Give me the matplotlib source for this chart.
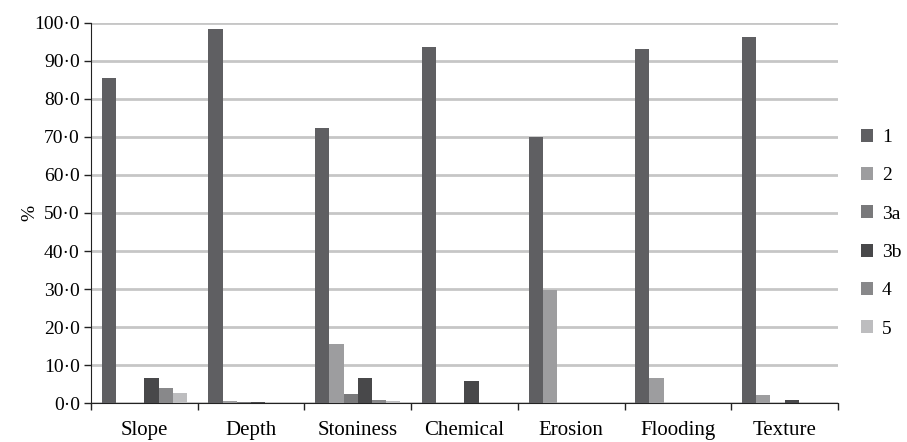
import numpy as np
import matplotlib
matplotlib.use("Agg")
import matplotlib.pyplot as plt
from matplotlib.ticker import FuncFormatter

plt.rcParams["font.family"] = ["Liberation Serif", "DejaVu Serif"]

categories = ["Slope", "Depth", "Stoniness", "Chemical", "Erosion", "Flooding", "Texture"]
series_names = ["1", "2", "3a", "3b", "4", "5"]

s1 = [85.4, 98.3, 72.3, 93.7, 69.9, 93.0, 96.2]
s2 = [0.0, 0.5, 15.5, 0.0, 29.8, 6.7, 2.2]
s3a = [0.0, 0.3, 2.4, 0.0, 0.0, 0.0, 0.0]
s3b = [6.6, 0.3, 6.6, 5.9, 0.0, 0.0, 0.9]
s4 = [3.9, 0.0, 0.8, 0.0, 0.0, 0.0, 0.0]
s5 = [2.6, 0.0, 0.7, 0.0, 0.0, 0.0, 0.0]

colors = ["#5f5f62", "#9d9d9f", "#79797b", "#48484a", "#88888a", "#bdbdbf"]

fig = plt.figure(figsize=(9.07, 4.42), dpi=100)
ax = fig.add_axes([0.1003, 0.0876, 0.8236, 0.861])

x = np.arange(len(categories))
n = len(series_names)
w = 0.8 / n
for i, (vals, name) in enumerate(zip([s1, s2, s3a, s3b, s4, s5], series_names)):
    ax.bar(x - 0.4 + w * (i + 0.5), vals, width=w, color=colors[i], label=name, zorder=3)

ax.set_xlim(-0.5, len(categories) - 0.5)
ax.set_ylim(0, 100)
ax.set_yticks(np.arange(0, 101, 10))
ax.yaxis.set_major_formatter(FuncFormatter(lambda v, p: f"{v:.1f}".replace(".", "\u00b7")))

ax.set_xticks(x)
ax.set_xticklabels(categories)
ax.set_xticks(np.arange(-0.5, len(categories), 1), minor=True)
ax.tick_params(axis="x", which="major", length=0, pad=13, labelsize=15)
ax.tick_params(axis="x", which="minor", length=5, width=1, direction="out", color="#222222")
ax.tick_params(axis="y", length=5, width=1, color="#222222", labelsize=14, pad=3)

ax.grid(axis="y", color="#c6c6c6", linewidth=2, zorder=0)
ax.axhline(100, color="#999999", linewidth=1.5, zorder=1)

for sp in ["top", "right"]:
    ax.spines[sp].set_visible(False)
ax.spines["left"].set_color("#222222")
ax.spines["bottom"].set_color("#222222")

ax.set_ylabel("%", fontsize=14, labelpad=-3)

ax.legend(loc="center left", bbox_to_anchor=(1.02, 0.447), frameon=False,
          fontsize=14, handlelength=0.65, handleheight=0.65, handletextpad=0.45,
          labelspacing=1.08, borderaxespad=0)

fig.savefig("out.png", dpi=100)
